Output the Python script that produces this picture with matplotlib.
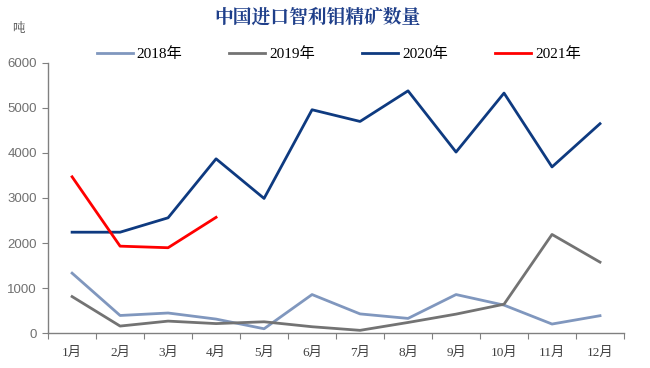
import matplotlib
matplotlib.use('Agg')
import matplotlib.pyplot as plt

months = ['1月', '2月', '3月', '4月', '5月', '6月', '7月', '8月', '9月', '10月', '11月', '12月']
y2018 = [1330, 390, 445, 310, 95, 855, 425, 325, 855, 620, 200, 385]
y2019 = [810, 155, 265, 210, 250, 140, 60, 235, 420, 640, 2190, 1575]
y2020 = [2240, 2240, 2560, 3870, 2990, 4960, 4700, 5380, 4020, 5330, 3690, 4650]
y2021 = [3470, 1930, 1895, 2570]
series = [('2018年', y2018, '#8097BE'), ('2019年', y2019, '#737373'),
          ('2020年', y2020, '#0E3A80'), ('2021年', y2021, '#FF0000')]

serif_cjk = ['Liberation Serif', 'Noto Sans CJK SC']
plt.rcParams['font.family'] = ['Liberation Sans', 'Noto Sans CJK SC']

fig = plt.figure(figsize=(6.5, 3.68), dpi=100)
ax = fig.add_axes([0.074, 0.095, 0.886, 0.734])

for name, vals, c in series:
    ax.plot(range(len(vals)), vals, color=c, lw=2.0, label=name)

ax.set_xlim(-0.5, 11.5)
ax.set_ylim(0, 6000)
ax.set_yticks(range(0, 6001, 1000))
ax.tick_params(axis='y', colors='#808080', labelsize=9.5, length=4, direction='out', pad=4)
for t in ax.get_yticklabels():
    t.set_color('#707070')

ax.set_xticks([i + 0.5 for i in range(-1, 12)])
ax.set_xticklabels([])
ax.set_xticks(range(12), minor=True)
ax.set_xticklabels(months, minor=True, fontfamily=serif_cjk, fontsize=9.5, color='#404040')
ax.tick_params(axis='x', which='major', length=4, color='#808080')
ax.tick_params(axis='x', which='minor', length=0, pad=10)

for s in ['top', 'right']:
    ax.spines[s].set_visible(False)
for s in ['left', 'bottom']:
    ax.spines[s].set_color('#808080')
    ax.spines[s].set_linewidth(1.0)

fig.text(0.488, 0.952, '中国进口智利钼精矿数量', ha='center', va='center',
         fontsize=13.5, fontweight='bold', color='#1F3F8A', family=['Noto Serif CJK SC', 'Noto Sans CJK SC'])
fig.text(0.029, 0.92, '吨', ha='center', va='center', fontsize=9, color='#606060')

leg = fig.legend(loc='center', bbox_to_anchor=(0.521, 0.852), ncol=4, frameon=False,
                 prop={'family': serif_cjk, 'size': 11}, handlelength=2.35,
                 columnspacing=3.1, handletextpad=0.25)

fig.savefig('out.png', dpi=100)
